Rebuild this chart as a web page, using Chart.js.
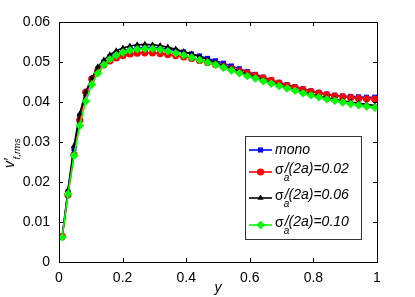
<!DOCTYPE html>
<html>
<head>
<meta charset="utf-8">
<script src="https://cdn.jsdelivr.net/npm/chart.js@4/dist/chart.umd.min.js"></script>
<style>
  html, body { margin: 0; padding: 0; background: #fff; }
  #wrap { width: 415px; height: 297px; }
</style>
</head>
<body>
<div id="wrap"><canvas id="chart" width="415" height="297"></canvas></div>
<script>
// wall-normal positions
const yPos = [0.010, 0.028, 0.047, 0.065, 0.084, 0.103, 0.122, 0.141, 0.160, 0.180,
  0.201, 0.223, 0.246, 0.270, 0.294, 0.318, 0.342, 0.367, 0.392, 0.417,
  0.442, 0.467, 0.492, 0.517, 0.542, 0.567, 0.592, 0.617, 0.642, 0.667,
  0.692, 0.717, 0.742, 0.767, 0.792, 0.817, 0.842, 0.867, 0.892, 0.917,
  0.942, 0.967, 0.993];

const mono = [0.0063, 0.0175, 0.0283, 0.0365, 0.0420, 0.0456, 0.0482, 0.0500, 0.0513, 0.0522,
  0.0528, 0.0532, 0.0535, 0.0536, 0.0536, 0.0535, 0.0532, 0.0529, 0.0525, 0.0520,
  0.0515, 0.0509, 0.0503, 0.0497, 0.0490, 0.0483, 0.0476, 0.0469, 0.0462, 0.0455,
  0.0449, 0.0443, 0.0438, 0.0433, 0.0428, 0.0424, 0.0420, 0.0417, 0.0415, 0.0414,
  0.0413, 0.0412, 0.0412];

const sig002 = [0.0064, 0.0168, 0.0268, 0.0355, 0.0425, 0.0458, 0.0478, 0.0493, 0.0503, 0.0510,
  0.0516, 0.0520, 0.0522, 0.0523, 0.0523, 0.0521, 0.0519, 0.0516, 0.0513, 0.0509,
  0.0504, 0.0499, 0.0494, 0.0489, 0.0483, 0.0477, 0.0472, 0.0466, 0.0460, 0.0454,
  0.0447, 0.0441, 0.0436, 0.0431, 0.0426, 0.0422, 0.0418, 0.0415, 0.0413, 0.0411,
  0.0409, 0.0408, 0.0407];

const sig006 = [0.0063, 0.0180, 0.0290, 0.0370, 0.0425, 0.0460, 0.0488, 0.0505, 0.0518, 0.0528,
  0.0535, 0.0540, 0.0543, 0.0544, 0.0543, 0.0541, 0.0537, 0.0532, 0.0526, 0.0520,
  0.0513, 0.0506, 0.0499, 0.0491, 0.0484, 0.0476, 0.0469, 0.0462, 0.0455, 0.0448,
  0.0442, 0.0436, 0.0430, 0.0425, 0.0420, 0.0415, 0.0411, 0.0407, 0.0403, 0.0400,
  0.0397, 0.0394, 0.0391];

const sig010 = [0.0062, 0.0170, 0.0266, 0.0341, 0.0402, 0.0444, 0.0472, 0.0493, 0.0507, 0.0517,
  0.0524, 0.0529, 0.0532, 0.0533, 0.0533, 0.0531, 0.0527, 0.0522, 0.0517, 0.0511,
  0.0505, 0.0499, 0.0493, 0.0486, 0.0479, 0.0472, 0.0465, 0.0459, 0.0452, 0.0446,
  0.0440, 0.0434, 0.0428, 0.0422, 0.0417, 0.0412, 0.0407, 0.0403, 0.0399, 0.0395,
  0.0392, 0.0389, 0.0386];

const xTicks = [0, 0.2, 0.4, 0.6, 0.8, 1];
const yTicks = [0, 0.01, 0.02, 0.03, 0.04, 0.05, 0.06];
const legendSigma = ["0.02", "0.06", "0.10"];

const toPts = (vals) => vals.map((v, i) => ({ x: yPos[i], y: v }));

function series(label, vals, color, style, order) {
  return {
    label: label,
    data: toPts(vals),
    borderColor: color,
    backgroundColor: color,
    borderWidth: 1.6,
    pointStyle: style,
    pointRadius: style === "rectRot" ? 4.3 : 3.6,
    pointBorderWidth: 0,
    order: order,
  };
}

const datasets = [
  series("mono", mono, "#0000ff", "rect", 3),
  series("0.02", sig002, "#ff0000", "circle", 2),
  series("0.06", sig006, "#000000", "triangle", 1),
  series("0.10", sig010, "#00ff00", "rectRot", 0),
];

const FONT = "'Liberation Sans', Arial, sans-serif";

// box, inward ticks, axis titles and legend, matlab style
const decor = {
  id: "decor",
  afterDraw(chart) {
    const ctx = chart.ctx;
    const xs = chart.scales.x, ys = chart.scales.y;
    const a = chart.chartArea;
    ctx.save();
    ctx.strokeStyle = "#000";
    ctx.lineWidth = 1;
    ctx.strokeRect(a.left + 0.5, a.top + 0.5, a.right - a.left, a.bottom - a.top);
    ctx.beginPath();
    xTicks.forEach((t) => {
      const px = Math.round(xs.getPixelForValue(t)) + 0.5;
      ctx.moveTo(px, a.bottom); ctx.lineTo(px, a.bottom - 4);
      ctx.moveTo(px, a.top); ctx.lineTo(px, a.top + 4);
    });
    yTicks.forEach((t) => {
      const py = Math.round(ys.getPixelForValue(t)) + 0.5;
      ctx.moveTo(a.left, py); ctx.lineTo(a.left + 4, py);
      ctx.moveTo(a.right, py); ctx.lineTo(a.right - 4, py);
    });
    ctx.stroke();

    // x title
    ctx.fillStyle = "#000";
    ctx.font = "italic 14px " + FONT;
    ctx.textAlign = "center";
    ctx.textBaseline = "alphabetic";
    ctx.fillText("y", (a.left + a.right) / 2, 292);

    // y title  v'_{f,rms}
    ctx.save();
    ctx.translate(14, 168);
    ctx.rotate(-Math.PI / 2);
    ctx.textAlign = "left";
    ctx.font = "italic 14px " + FONT;
    ctx.fillText("v\u2032", 0, 0);
    const w = ctx.measureText("v\u2032").width;
    ctx.font = "italic 9.5px " + FONT;
    ctx.fillText("f,rms", w - 1, 6);
    ctx.restore();

    // legend
    const lx = 245.5, ly = 136.5, lw = 116, lh = 103;
    ctx.fillStyle = "#fff";
    ctx.fillRect(lx, ly, lw, lh);
    ctx.strokeStyle = "#333";
    ctx.lineWidth = 1;
    ctx.strokeRect(lx, ly, lw, lh);
    const rows = [150, 172, 198, 225];
    chart.data.datasets.forEach((ds, i) => {
      const y = rows[i];
      ctx.strokeStyle = ds.borderColor;
      ctx.lineWidth = 1.6;
      ctx.beginPath();
      ctx.moveTo(249, y); ctx.lineTo(272, y);
      ctx.stroke();
      ctx.fillStyle = ds.backgroundColor;
      Chart.helpers.drawPoint(ctx, {
        pointStyle: ds.pointStyle, radius: ds.pointRadius, rotation: 0, borderWidth: 0
      }, 260.5, y);
      ctx.fillStyle = "#000";
      ctx.textAlign = "left";
      ctx.textBaseline = "middle";
      if (i === 0) {
        ctx.font = "italic 14px " + FONT;
        ctx.fillText("mono", 275, y);
      } else {
        ctx.font = "14px " + FONT;
        ctx.fillText("\u03c3", 275, y - 2);
        let x = 275 + ctx.measureText("\u03c3").width;
        ctx.font = "italic 10px " + FONT;
        ctx.fillText("a", x, y + 6);
        ctx.font = "italic 14px " + FONT;
        ctx.fillText("/(2a)=" + legendSigma[i - 1], x + 1, y - 3);
      }
    });
    ctx.restore();
  }
};

new Chart(document.getElementById("chart").getContext("2d"), {
  type: "line",
  data: { datasets: datasets },
  options: {
    responsive: false,
    animation: false,
    layout: { padding: { left: 0, top: 22, right: 38, bottom: 0 } },
    plugins: { legend: { display: false }, tooltip: { enabled: false } },
    scales: {
      x: {
        type: "linear",
        min: 0, max: 1,
        afterFit: (s) => { s.height = 35; },
        afterBuildTicks: (s) => { s.ticks = xTicks.map((v) => ({ value: v })); },
        grid: { display: false },
        border: { display: false },
        ticks: {
          color: "#000",
          font: { family: FONT, size: 14 },
          padding: 0,
          maxRotation: 0,
          callback: (v) => String(v),
        },
      },
      y: {
        type: "linear",
        min: 0, max: 0.06,
        afterFit: (s) => { s.width = 59; },
        afterBuildTicks: (s) => { s.ticks = yTicks.map((v) => ({ value: v })); },
        grid: { display: false },
        border: { display: false },
        ticks: {
          color: "#000",
          font: { family: FONT, size: 14 },
          padding: 1,
          callback: (v) => String(v),
        },
      },
    },
  },
  plugins: [decor],
});
</script>
</body>
</html>
